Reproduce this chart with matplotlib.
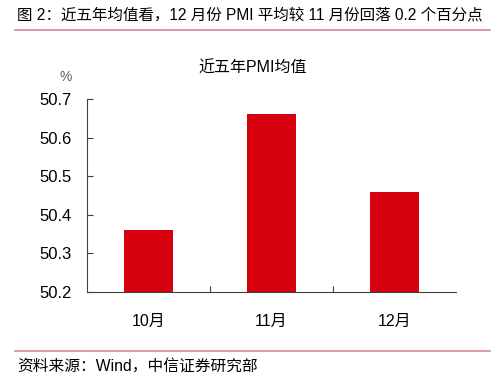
import matplotlib
matplotlib.use("Agg")
import matplotlib.pyplot as plt

plt.rcParams['font.family'] = ['Liberation Sans', 'Noto Sans CJK SC', 'DejaVu Sans']

categories = ["10月", "11月", "12月"]
values = [50.36, 50.66, 50.46]
yticks = [50.2, 50.3, 50.4, 50.5, 50.6, 50.7]

W, H = 500, 386
fig = plt.figure(figsize=(W/100, H/100), dpi=100)
ax = fig.add_axes([87/W, 1-292/H, (456-87)/W, (292-99)/H])

ax.bar(range(len(categories)), values, width=0.4, color="#d7000f", bottom=0)
ax.set_ylim(50.2, 50.7)
ax.set_xlim(-0.5, len(categories)-0.5)
ax.set_yticks(yticks)
ax.set_yticklabels([f"{v:.1f}" for v in yticks], fontsize=12)
ax.set_xticks([i+0.5 for i in range(len(categories)-1)], minor=False)
ax.set_xticklabels([])
ax.set_xticks(range(len(categories)), minor=True)
ax.set_xticklabels(categories, minor=True, fontsize=11.5)
ax.tick_params(axis='x', which='minor', length=0, pad=16)
ax.tick_params(axis='x', which='major', direction='in', length=4, color="#404040")
ax.tick_params(axis='y', direction='in', length=4, color="#404040", pad=11)
for s in ['top', 'right']:
    ax.spines[s].set_visible(False)
for s in ['left', 'bottom']:
    ax.spines[s].set_color("#404040")
    ax.spines[s].set_linewidth(0.8)

fig.text(253/W, 1-68/H, "近五年PMI均值", ha='center', va='center', fontsize=11.5)
fig.text(66/W, 1-77/H, "%", ha='center', va='center', fontsize=10, color="#606060")

fig.text(17/W, 1-15/H, "图 2：近五年均值看，12 月份 PMI 平均较 11 月份回落 0.2 个百分点",
         ha='left', va='center', fontsize=11.2)
fig.add_artist(plt.Line2D([15/W, 490/W], [1-30/H, 1-30/H], color="#d48a8f", linewidth=1.2))
fig.add_artist(plt.Line2D([15/W, 490/W], [1-351/H, 1-351/H], color="#d48a8f", linewidth=1.2))
fig.text(17/W, 1-366/H, "资料来源：Wind，中信证券研究部", ha='left', va='center', fontsize=11.3)

fig.savefig("out.png", dpi=100)
